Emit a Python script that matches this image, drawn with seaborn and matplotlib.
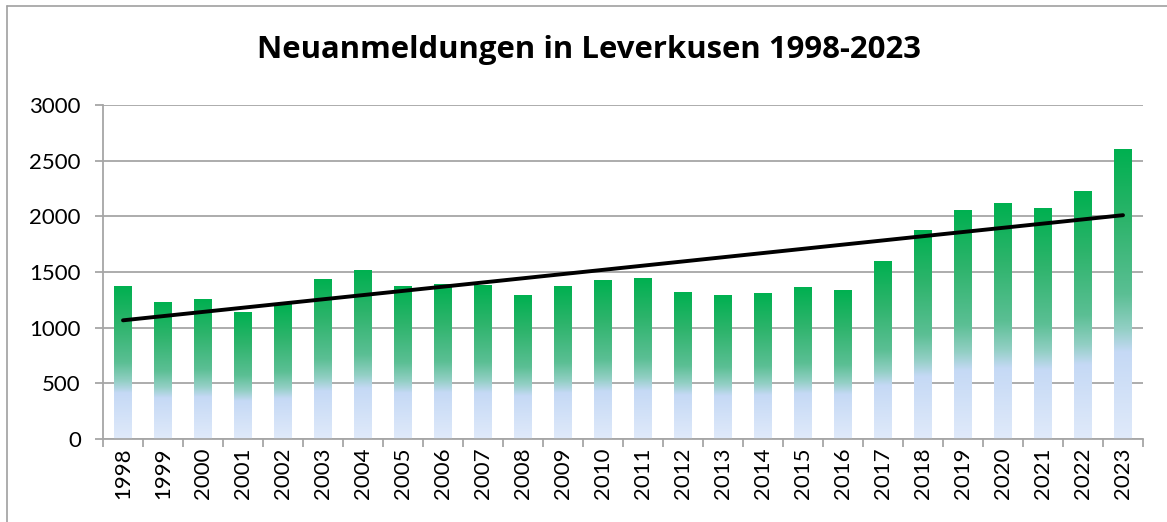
import numpy as np
import pandas as pd
import matplotlib
matplotlib.use("Agg")
import matplotlib.pyplot as plt
import seaborn as sns
from matplotlib.colors import LinearSegmentedColormap
from matplotlib.lines import Line2D

years = [str(y) for y in range(1998, 2024)]
registrations = [1374, 1222, 1257, 1132, 1204, 1437, 1509, 1374, 1392, 1383,
                 1293, 1374, 1428, 1446, 1320, 1293, 1311, 1365, 1338, 1590,
                 1877, 2048, 2119, 2074, 2227, 2604]
title = "Neuanmeldungen in Leverkusen 1998-2023"

# gradient fill (bottom -> top) like the Excel bar style
grad = LinearSegmentedColormap.from_list("bar_grad", [
    (0.00, "#e0eafa"),
    (0.30, "#c5d9f5"),
    (0.38, "#92cfc4"),
    (0.50, "#5bbf94"),
    (0.75, "#2eb46c"),
    (1.00, "#00b050"),
])

sns.set_style("white")
plt.rcParams['font.family'] = ['Lato', 'DejaVu Sans']
plt.rcParams['text.color'] = 'black'
plt.rcParams['xtick.labelcolor'] = 'black'
plt.rcParams['ytick.labelcolor'] = 'black'
grey = "#a6a6a6"

df = pd.DataFrame({"year": years, "count": registrations})

fig = plt.figure(figsize=(11.67, 5.22), dpi=100)
ax = fig.add_axes([103 / 1167, 1 - 439 / 522, 1040 / 1167, 334 / 522])

sns.barplot(data=df, x="year", y="count", color="#00b050", width=0.43, ax=ax, zorder=2)

# replace flat bars by vertical gradients
ramp = np.linspace(0, 1, 256).reshape(-1, 1)
for p in ax.patches:
    x0, w, h = p.get_x(), p.get_width(), p.get_height()
    ax.imshow(ramp, cmap=grad, origin="lower", aspect="auto",
              extent=[x0, x0 + w, 0, h], zorder=2, interpolation="bilinear")
    p.set_visible(False)

# linear trend line
xs = np.arange(len(registrations))
k, d = np.polyfit(xs, registrations, 1)
ax.plot(xs, k * xs + d, color="black", lw=2.8, zorder=3, solid_capstyle="round")

ax.set_xlim(-0.5, len(years) - 0.5)
ax.set_ylim(0, 3000)
ax.set_yticks(range(0, 3001, 500))
ax.yaxis.grid(True, color=grey, lw=1.3, zorder=0)
ax.set_axisbelow(True)
ax.set_xlabel("")
ax.set_ylabel("")

for s in ["top", "right"]:
    ax.spines[s].set_visible(False)
for s in ["left", "bottom"]:
    ax.spines[s].set_color(grey)
    ax.spines[s].set_linewidth(1.3)

ax.set_xticks(np.arange(-0.5, len(years)), minor=True)
ax.tick_params(axis="x", which="minor", length=6, width=1.3, color=grey, direction="out", bottom=True)
ax.tick_params(axis="x", which="major", length=0, pad=6, labelsize=16, rotation=90)
ax.tick_params(axis="y", length=6, width=1.3, color=grey, direction="out", left=True, pad=10, labelsize=16)

fig.text(0.505, 0.905, title, ha="center", va="center", fontsize=22.4,
         fontweight="bold", family=["Open Sans", "DejaVu Sans"])

# chart-area frame (only top and left edges are visible in the original crop)
fig.lines.append(Line2D([7 / 1167, 1], [1 - 6 / 522] * 2, transform=fig.transFigure,
                        color="#a0a0a0", lw=1.2))
fig.lines.append(Line2D([7 / 1167] * 2, [0, 1 - 6 / 522], transform=fig.transFigure,
                        color="#a0a0a0", lw=1.2))

fig.savefig("out.png", dpi=100)
